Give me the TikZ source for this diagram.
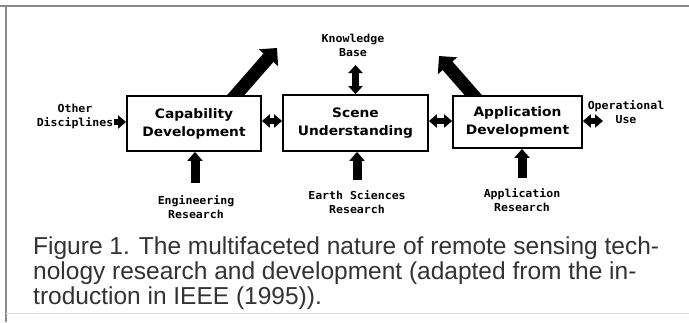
\documentclass[tikz,border=0pt]{standalone}
\usepackage{fontspec}
\setmainfont{DejaVu Sans}
\newfontfamily\boxfont[FakeStretch=1.06]{DejaVu Sans}
\newfontfamily\lblfont[FakeStretch=1.05]{DejaVu Sans Mono}
\newfontfamily\capfont[FakeStretch=1.0]{Liberation Sans}
\usetikzlibrary{arrows.meta}
\definecolor{captext}{HTML}{333333}
\definecolor{framegray}{HTML}{8A8A8A}
\tikzset{
  box/.style={draw=black, line width=1.8pt, fill=white, align=center, inner sep=0pt,
    font=\boxfont\bfseries\fontsize{13}{18}\selectfont},
  lbl/.style={align=center, inner sep=0pt, font=\lblfont\bfseries\fontsize{11}{14}\selectfont},
  dbl/.style={line width=6pt, {Triangle[width=13pt,length=8pt]}-{Triangle[width=13pt,length=8pt]}},
  vdbl/.style={line width=7pt, {Triangle[width=14pt,length=8pt]}-{Triangle[width=14pt,length=8pt]}},
  single/.style={line width=6pt, -{Triangle[width=13pt,length=8pt]}},
  uparrow/.style={line width=9pt, -{Triangle[width=15pt,length=9pt]}},
  big/.style={line width=13pt, -{Triangle[width=25pt,length=13pt]}},
  capline/.style={anchor=base west, inner sep=0pt, text=captext,
    font=\capfont\fontsize{24.5}{25}\selectfont},
}
\begin{document}
\begin{tikzpicture}[x=1pt,y=-1pt]
\useasboundingbox (0,0) rectangle (689,322);
\fill[white] (0,0) rectangle (689,322);
% frame
\draw[framegray, line width=1.5pt] (0,6) -- (689,6);
\draw[framegray, line width=1.5pt] (6,6) -- (6,322);
\draw[gray!25, line width=1pt] (6,313) -- (689,313);

% boxes
\node[box, minimum width=134pt, minimum height=55pt] (cap) at (194,123.5) {Capability\\Development};
\node[box, minimum width=145pt, minimum height=56pt] (scene) at (355.5,123) {Scene\\Understanding};
\node[box, minimum width=129pt, minimum height=52pt] (app) at (517.5,122) {Application\\Development};

% labels
\node[lbl] (other) at (75,116) {Other\\Disciplines};
\node[lbl] (kb) at (353,45) {Knowledge\\Base};
\node[lbl] (oper) at (626,112) {Operational\\Use};
\node[lbl] (eng) at (196,207) {Engineering\\Research};
\node[lbl] (earth) at (357,202) {Earth Sciences\\Research};
\node[lbl] (appres) at (522,200) {Application\\Research};

% coordinates
\coordinate (odTail) at (114,122);
\coordinate (opTip) at (603,121);
\coordinate (kbEnd) at (355.5,65);
\coordinate (engTail) at (195,183);
\coordinate (earthTail) at (357,180);
\coordinate (appTail) at (522,178);
\coordinate (capBase) at (229.75,102);
\coordinate (capTip) at (277,48);
\coordinate (appBase) at (479.25,102);
\coordinate (appTip) at (439,56);

% horizontal arrows
\draw[single] (odTail) -- (odTail -| cap.west);
\draw[dbl] ([yshift=2.5pt]cap.east) -- ([yshift=2.5pt]cap.east -| scene.west);
\draw[dbl] ([yshift=2pt]scene.east) -- ([yshift=2pt]scene.east -| app.west);
\draw[dbl] (opTip -| app.east) -- (opTip);

% vertical arrows
\draw[vdbl] (kbEnd) -- (scene.north);
\draw[uparrow] (engTail) -- (engTail |- cap.south);
\draw[uparrow] (earthTail) -- (earthTail |- scene.south);
\draw[uparrow] (appTail) -- (appTail |- app.south);

% diagonal arrows
\begin{scope}
\clip (0,0) rectangle (689,95.5);
\draw[big] (capBase) -- (capTip);
\draw[big] (appBase) -- (appTip);
\end{scope}

% caption
\node[capline] (c1) at (33,254) {Figure 1. The multifaceted nature of remote sensing tech-};
\node[capline] (c2) at (33,279) {nology research and development (adapted from the in-};
\node[capline] (c3) at (33,304) {troduction in IEEE (1995)).};
\end{tikzpicture}
\end{document}
